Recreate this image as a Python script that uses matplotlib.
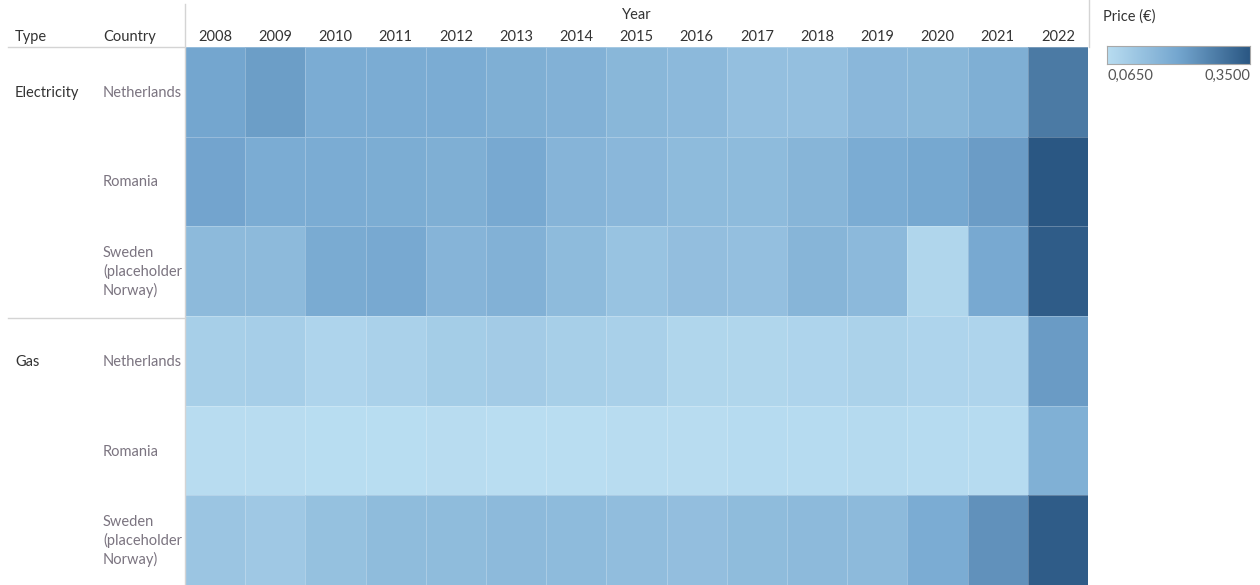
import matplotlib.pyplot as plt
import numpy as np
from matplotlib.colors import LinearSegmentedColormap

years = [str(y) for y in range(2008, 2023)]
types = ["Electricity", "Gas"]
countries = ["Netherlands", "Romania", "Sweden\n(placeholder\nNorway)"]

elec_nl = [0.208, 0.222, 0.193, 0.193, 0.193, 0.185, 0.179, 0.165, 0.159, 0.142, 0.142, 0.162, 0.165, 0.185, 0.287]
elec_ro = [0.210, 0.193, 0.193, 0.190, 0.185, 0.199, 0.170, 0.162, 0.153, 0.153, 0.168, 0.193, 0.202, 0.225, 0.350]
elec_se = [0.156, 0.156, 0.196, 0.199, 0.170, 0.179, 0.153, 0.133, 0.145, 0.142, 0.168, 0.159, 0.085, 0.199, 0.341]
gas_nl = [0.102, 0.105, 0.088, 0.096, 0.108, 0.111, 0.102, 0.099, 0.085, 0.085, 0.088, 0.094, 0.088, 0.088, 0.227]
gas_ro = [0.068, 0.068, 0.067, 0.067, 0.068, 0.065, 0.065, 0.068, 0.068, 0.071, 0.071, 0.074, 0.071, 0.071, 0.182]
gas_se = [0.128, 0.119, 0.139, 0.151, 0.151, 0.156, 0.153, 0.148, 0.145, 0.151, 0.156, 0.156, 0.193, 0.245, 0.341]

vmin, vmax = 0.065, 0.35
cmap = LinearSegmentedColormap.from_list("tab_blue", ["#b9ddf1", "#74a6cf", "#2a5783"])

W, H = 1260, 585


def fx(px):
    return px / W


def fy(py):
    return 1 - py / H


fig = plt.figure(figsize=(12.6, 5.85), dpi=100)
plt.rcParams["font.family"] = ["Lato", "DejaVu Sans"]
fs = 10.5

grid = np.array([elec_nl, elec_ro, elec_se, gas_nl, gas_ro, gas_se])
ax = fig.add_axes([fx(185), 0, fx(903), 538 / H])
ax.pcolormesh(grid, cmap=cmap, vmin=vmin, vmax=vmax,
              edgecolors=(1, 1, 1, 0.25), linewidth=0.6)
ax.set_xlim(0, len(years))
ax.set_ylim(len(grid), 0)
ax.axis("off")

# header
txt_dark = "#333333"
txt_gray = "#7b7480"
fig.text(fx(15), fy(37), "Type", fontsize=fs, color=txt_dark, va="center")
fig.text(fx(103), fy(37), "Country", fontsize=fs, color=txt_dark, va="center")
fig.text(fx(637), fy(15), "Year", fontsize=fs, color=txt_dark, va="center", ha="center")
col_w = 903 / len(years)
for i, yr in enumerate(years):
    fig.text(fx(185 + col_w * (i + 0.5)), fy(37), yr, fontsize=fs,
             color=txt_dark, va="center", ha="center")

# row labels
row_h = 538 / 6
for t, typ in enumerate(types):
    fig.text(fx(15), fy(48 + row_h * (3 * t + 0.5)), typ, fontsize=fs,
             color=txt_dark, va="center")
    for c, ctry in enumerate(countries):
        fig.text(fx(103), fy(48 + row_h * (3 * t + c + 0.5)), ctry, fontsize=fs,
                 color=txt_gray, va="center", linespacing=1.3)

# lines
line_col = "#d4d4d4"
fig.add_artist(plt.Line2D([fx(8), fx(185)], [fy(47), fy(47)], color=line_col, lw=1))
fig.add_artist(plt.Line2D([fx(8), fx(185)], [fy(318), fy(318)], color=line_col, lw=1))
fig.add_artist(plt.Line2D([fx(185), fx(185)], [fy(4), 0], color=line_col, lw=1))
fig.add_artist(plt.Line2D([fx(1089), fx(1089)], [fy(0), fy(47)], color=line_col, lw=1))

# legend
fig.text(fx(1103), fy(17), "Price (€)", fontsize=fs, color=txt_dark, va="center")
cax = fig.add_axes([fx(1107), fy(64), fx(143), 18 / H])
cax.imshow(np.linspace(0, 1, 256)[None, :], cmap=cmap, aspect="auto")
cax.set_xticks([])
cax.set_yticks([])
for s in cax.spines.values():
    s.set_color("#a8a8a8")
fig.text(fx(1107), fy(76), f"{vmin:.4f}".replace(".", ","), fontsize=fs,
         color="#555555", va="center")
fig.text(fx(1250), fy(76), f"{vmax:.4f}".replace(".", ","), fontsize=fs,
         color="#555555", va="center", ha="right")

fig.savefig("out.png", dpi=100)
